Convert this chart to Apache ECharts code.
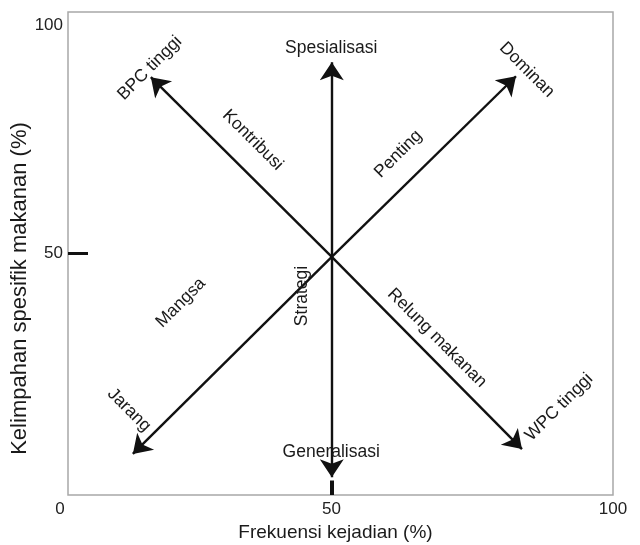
<!DOCTYPE html>
<html>
<head>
<meta charset="utf-8">
<script src="https://cdn.jsdelivr.net/npm/echarts@6/dist/echarts.min.js"></script>
<style>
  html, body { margin: 0; padding: 0; background: #fff; }
  #chart { width: 640px; height: 545px; }
</style>
</head>
<body>
<div id="chart"></div>
<script>
// titik potong semua panah
const center = [48.4, 49.3];

// ujung panah (dari titik potong)
const arrowTipX = [15.2, 82.2, 48.4, 48.4, 11.9, 83.3];
const arrowTipY = [86.5, 86.7, 89.6, 3.7, 8.5, 9.5];

// teks di dalam grafik
const labelText = ['BPC tinggi', 'Dominan', 'Spesialisasi', 'Kontribusi', 'Penting', 'Mangsa',
  'Strategi', 'Relung makanan', 'Jarang', 'WPC tinggi', 'Generalisasi'];
const labelX = [15.0, 84.2, 48.3, 33.9, 60.6, 20.7, 42.9, 67.7, 11.2, 90.1, 48.3];
const labelY = [88.4, 88.0, 92.5, 73.5, 70.6, 39.8, 41.2, 32.5, 17.6, 18.2, 8.9];
const labelRot = [45, -45, 0, -45, 45, 45, 90, -45, -45, 45, 0];

// label sumbu
const xTicks = [0, 50, 100];
const yTicks = [50, 100];

const font = 'Liberation Sans, Arial, sans-serif';
const txt = '#1a1a1a';

let chart = echarts.init(document.getElementById('chart'));

let arrowData = arrowTipX.map((x, i) => ({ coords: [center, [x, arrowTipY[i]]] }));
let textData = labelText.map((t, i) => ({
  value: [labelX[i], labelY[i]],
  label: { rotate: labelRot[i], formatter: t }
}));

chart.setOption({
  animation: false,
  grid: {
    left: 68, top: 12, right: 27, bottom: 50,
    outerBoundsMode: 'none', containLabel: false,
    show: true, borderColor: '#a8a8a8', borderWidth: 1.5, backgroundColor: '#fff'
  },
  xAxis: {
    type: 'value', min: 0, max: 100, interval: 50,
    name: 'Frekuensi kejadian (%)',
    nameLocation: 'middle', nameGap: 28, nameMoveOverlap: false,
    nameTextStyle: { fontFamily: font, fontSize: 19, color: txt, padding: [0, 10, 0, 0] },
    axisLine: { show: false },
    axisTick: { show: false },
    splitLine: { show: false },
    axisLabel: {
      customValues: xTicks,
      margin: 6,
      formatter: (v) => v === 0 ? '{a|0}' : (v === 50 ? '{b|50}' : '{c|100}'),
      rich: {
        a: { fontFamily: font, fontSize: 17, color: '#222', padding: [0, 16, 0, 0] },
        b: { fontFamily: font, fontSize: 17, color: '#222', padding: [0, 18, 0, 0] },
        c: { fontFamily: font, fontSize: 17, color: '#222' }
      }
    }
  },
  yAxis: {
    type: 'value', min: 0, max: 100, interval: 50,
    name: 'Kelimpahan spesifik makanan (%)',
    nameLocation: 'middle', nameGap: 37, nameMoveOverlap: false,
    nameTextStyle: { fontFamily: font, fontSize: 22, color: txt, padding: [0, 70, 0, 0] },
    axisLine: { show: false },
    axisTick: {
      show: true, inside: true, length: 20, customValues: [50],
      lineStyle: { color: '#111', width: 3 }
    },
    splitLine: { show: false },
    axisLabel: {
      customValues: yTicks,
      margin: 5,
      formatter: (v) => v === 100 ? '{t|100}' : '{m|' + v + '}',
      rich: {
        t: { fontFamily: font, fontSize: 17, color: '#222', padding: [26, 0, 0, 0] },
        m: { fontFamily: font, fontSize: 17, color: '#222' }
      }
    }
  },
  series: [
    {
      type: 'lines',
      coordinateSystem: 'cartesian2d',
      symbol: ['none', 'arrow'],
      symbolSize: [14, 18],
      lineStyle: { color: '#111', width: 2.4, opacity: 1 },
      data: arrowData,
      z: 3
    },
    {
      // tanda 50 di sumbu x
      type: 'lines',
      coordinateSystem: 'cartesian2d',
      symbol: 'none',
      lineStyle: { color: '#111', width: 4, opacity: 1 },
      data: [{ coords: [[center[0], 0], [center[0], 3]] }],
      z: 3
    },
    {
      type: 'scatter',
      symbolSize: 0,
      silent: true,
      itemStyle: { opacity: 1 },
      label: {
        show: true, position: 'inside', opacity: 1,
        fontFamily: font, fontSize: 17.5, color: txt
      },
      data: textData,
      z: 4
    }
  ]
});
</script>
</body>
</html>
